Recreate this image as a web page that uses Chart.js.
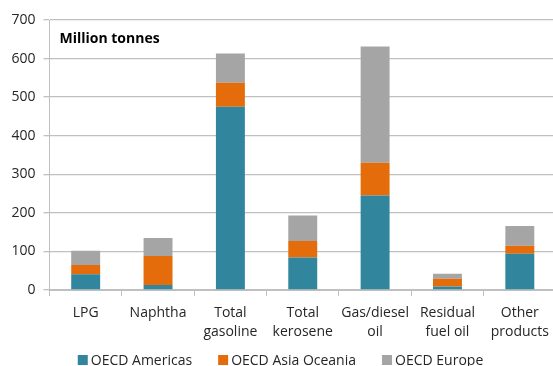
<!DOCTYPE html>
<html>
<head>
<meta charset="utf-8">
<script src="https://cdn.jsdelivr.net/npm/chart.js@4/dist/chart.umd.min.js"></script>
<style>
  html, body { margin: 0; padding: 0; background: #fff; overflow: hidden; }
  #wrap { width: 556px; height: 366px; }
</style>
</head>
<body>
<div id="wrap"><canvas id="c" width="556" height="366"></canvas></div>
<script>
// Oil product demand by OECD region, million tonnes
const categories = [
  ['LPG'], ['Naphtha'], ['Total', 'gasoline'], ['Total', 'kerosene'],
  ['Gas/diesel', 'oil'], ['Residual', 'fuel oil'], ['Other', 'products']
];
const seriesNames = ['OECD Americas', 'OECD Asia Oceania', 'OECD Europe'];
const americas    = [41, 13, 475, 84, 245, 9, 94];
const asiaOceania = [24, 75, 62, 43, 85, 20, 21];
const europe      = [37, 47, 76, 66, 301, 13, 51];
const yTicks = [0, 100, 200, 300, 400, 500, 600, 700];
const unitLabel = 'Million tonnes';

const colors = ['#31859C', '#E46C0A', '#A5A5A5'];
const FONT = '"Open Sans", sans-serif';
const TEXT = '#262626';

// Unit caption in the top-left corner of the plot area
const unitText = {
  id: 'unitText',
  afterDraw(chart) {
    const { ctx, chartArea } = chart;
    ctx.save();
    ctx.font = 'bold 14px ' + FONT;
    ctx.fillStyle = '#000';
    ctx.textBaseline = 'middle';
    ctx.textAlign = 'left';
    ctx.fillText(unitLabel, chartArea.left + 10, chartArea.top + 19);
    ctx.restore();
  }
};

// Single-row legend along the bottom edge, built from the datasets
const bottomLegend = {
  id: 'bottomLegend',
  afterDraw(chart) {
    const { ctx } = chart;
    const box = 10, boxGap = 3, itemGap = 26;
    ctx.save();
    ctx.font = '14px ' + FONT;
    ctx.textBaseline = 'middle';
    ctx.textAlign = 'left';
    const items = chart.data.datasets.map(ds => ({
      text: ds.label, color: ds.backgroundColor,
      w: box + boxGap + ctx.measureText(ds.label).width
    }));
    const total = items.reduce((s, it) => s + it.w, 0) + itemGap * (items.length - 1);
    let x = 280.5 - total / 2;
    const y = chart.height - 6;
    items.forEach(it => {
      ctx.fillStyle = it.color;
      ctx.fillRect(x, y - box / 2, box, box);
      ctx.fillStyle = TEXT;
      ctx.fillText(it.text, x + box + boxGap, y + 1);
      x += it.w + itemGap;
    });
    ctx.restore();
  }
};

new Chart(document.getElementById('c'), {
  type: 'bar',
  data: {
    labels: categories,
    datasets: [americas, asiaOceania, europe].map((d, i) => ({
      label: seriesNames[i],
      data: d,
      backgroundColor: colors[i],
      borderWidth: 0,
      barPercentage: 0.4,
      categoryPercentage: 1.0
    }))
  },
  options: {
    responsive: false,
    animation: false,
    layout: { padding: { top: 20, right: 0, bottom: 20, left: 0 } },
    plugins: {
      legend: { display: false },
      tooltip: { enabled: false }
    },
    scales: {
      x: {
        stacked: true,
        grid: {
          offset: true,
          drawOnChartArea: false,
          color: '#BFBFBF',
          tickLength: 6
        },
        border: { color: '#BFBFBF' },
        ticks: {
          font: { family: FONT, size: 14, lineHeight: 1.39 },
          color: TEXT,
          padding: 7,
          maxRotation: 0
        },
        afterFit(scale) { scale.height = 56; }
      },
      y: {
        stacked: true,
        min: 0,
        max: 700,
        afterBuildTicks(scale) { scale.ticks = yTicks.map(v => ({ value: v })); },
        grid: { color: '#C0C0C0', tickLength: 6, lineWidth: 1.3 },
        border: { color: '#BFBFBF' },
        ticks: {
          font: { family: FONT, size: 14 },
          color: TEXT,
          padding: 8
        },
        afterFit(scale) { scale.width = 49.5; }
      }
    }
  },
  plugins: [unitText, bottomLegend]
});
</script>
</body>
</html>
